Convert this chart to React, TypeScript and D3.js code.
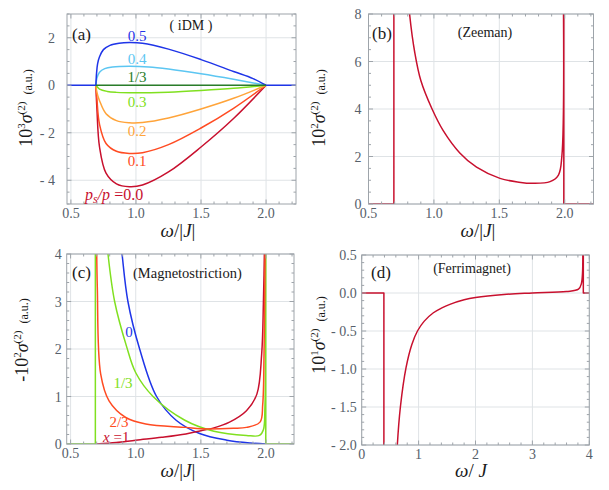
import * as d3 from "d3";
import React, { useEffect, useRef } from "react";

type Pt = [number, number];
type Seg = Pt[];

// ---- (a) iDM : 10^3 sigma(2) for several p_s/p ----
const idmP00: Seg[] = [[[0.692, 0], [0.7, -1.0], [0.72, -2.6], [0.77, -3.7], [0.85, -4.15], [0.95, -4.27], [1.05, -4.2], [1.25, -3.65], [1.5, -2.6], [1.75, -1.4], [2.0, 0]]];
const idmP01: Seg[] = [[[0.692, 0], [0.7, -0.6], [0.72, -1.65], [0.77, -2.45], [0.85, -2.78], [0.95, -2.87], [1.05, -2.84], [1.25, -2.5], [1.5, -1.8], [1.75, -0.97], [2.0, 0]]];
const idmP02: Seg[] = [[[0.692, 0], [0.7, -0.3], [0.72, -0.65], [0.77, -1.2], [0.85, -1.49], [0.95, -1.58], [1.05, -1.57], [1.25, -1.38], [1.5, -1.0], [1.75, -0.55], [2.0, 0]]];
const idmP03: Seg[] = [[[0.692, 0], [0.72, -0.16], [0.78, -0.26], [0.85, -0.3], [1.0, -0.32], [1.25, -0.29], [1.5, -0.22], [1.75, -0.13], [2.0, 0]]];
const idmP04: Seg[] = [[[0.692, 0], [0.7, 0.3], [0.72, 0.55], [0.76, 0.7], [0.82, 0.77], [0.95, 0.8], [1.1, 0.77], [1.25, 0.68], [1.5, 0.48], [1.75, 0.25], [2.0, 0]]];
const idmP05: Seg[] = [
  [[0.47, 0], [0.692, 0]],
  [[0.692, 0], [0.697, 0.5], [0.705, 0.9], [0.72, 1.2], [0.75, 1.5], [0.8, 1.68], [0.87, 1.77], [0.95, 1.8], [1.05, 1.77], [1.25, 1.52], [1.5, 1.08], [1.75, 0.58], [1.9, 0.28], [2.0, 0]],
  [[2.0, 0], [2.23, 0]],
];
const idmP13: Seg[] = [[[0.692, 0], [2.0, 0]]];

// ---- (b) Zeeman : 10^2 sigma(2) ----
const zeeman: Seg[] = [
  [[0.5, 0], [0.694, 0]],
  [[0.694, 0], [0.694, 8.6]],
  [[0.8, 9.0], [0.814, 8.0], [0.853, 6.4], [0.9, 5.2], [0.986, 4.0], [1.07, 3.1], [1.198, 2.15], [1.326, 1.55], [1.505, 1.08], [1.65, 0.92], [1.76, 0.87], [1.888, 0.94], [1.952, 1.22], [1.978, 2.0], [1.99, 8.6]],
  [[1.993, 8.6], [1.993, 0]],
  [[1.993, 0], [2.22, 0]],
];

// ---- (c) Magnetostriction : -10^2 sigma(2) for several x ----
const magX0: Seg[] = [[[0.88, 4.4], [0.895, 4.0], [0.94, 3.0], [1.03, 2.0], [1.16, 1.0], [1.31, 0.5], [1.49, 0.22], [1.7, 0.08], [1.88, 0.02], [2.0, 0]]];
const magX1: Seg[] = [[[0.7, 0], [0.85, 0.03], [1.0, 0.08], [1.2, 0.14], [1.385, 0.21], [1.5, 0.28], [1.6, 0.34], [1.72, 0.46], [1.85, 0.7], [1.93, 1.05], [1.967, 1.9], [1.98, 2.95], [1.99, 4.4]]];
const magX13: Seg[] = [
  [[0.47, 0], [0.69, 0]],
  [[0.69, 0], [0.69, 4.4]],
  [[0.775, 4.4], [0.787, 4.0], [0.838, 3.0], [0.93, 2.05], [1.0, 1.5], [1.133, 1.0], [1.377, 0.5], [1.6, 0.27], [1.85, 0.18], [1.95, 0.18], [1.98, 0.3], [1.992, 0.8], [1.998, 4.4]],
  [[1.998, 4.4], [1.998, 0]],
  [[1.998, 0], [2.22, 0]],
];
const magX23: Seg[] = [[[0.699, 4.4], [0.705, 3.3], [0.731, 1.47], [0.795, 0.91], [0.923, 0.56], [1.077, 0.42], [1.385, 0.35], [1.5, 0.32], [1.75, 0.33], [1.85, 0.35], [1.954, 0.46], [1.975, 0.84], [1.985, 1.9], [1.994, 4.4]]];

// ---- (d) Ferrimagnet : 10^1 sigma(2) ----
const ferri: Seg[] = [
  [[0, 0], [0.39, 0]],
  [[0.39, 0], [0.39, -2.2]],
  [[0.615, -2.2], [0.626, -2.0], [0.68, -1.5], [0.78, -0.98], [0.88, -0.68], [0.98, -0.5], [1.1, -0.37], [1.26, -0.26], [1.4, -0.2], [1.55, -0.15], [1.8, -0.09], [2.0, -0.06], [2.5, -0.02], [3.0, 0.0], [3.6, 0.02], [3.81, 0.05], [3.86, 0.12], [3.885, 0.6]],
  [[3.895, 0.6], [3.895, 0]],
  [[3.895, 0], [4.0, 0]],
];

// tick values / labels
const xTicksJ = [0.5, 1.0, 1.5, 2.0];
const xTickLabelsJ = ["0.5", "1.0", "1.5", "2.0"];
const xTicksD = [0, 1, 2, 3, 4];
const xTickLabelsD = ["0", "1", "2", "3", "4"];
const yTicksA = [2, 0, -2, -4];
const yTickLabelsA = ["2", "0", "- 2", "- 4"];
const yTicksB = [0, 2, 4, 6, 8];
const yTickLabelsB = ["0", "2", "4", "6", "8"];
const yTicksC = [0, 1, 2, 3, 4];
const yTickLabelsC = ["0", "1", "2", "3", "4"];
const yTicksD = [0.5, 0, -0.5, -1.0, -1.5, -2.0];
const yTickLabelsD = ["0.5", "0.0", "- 0.5", "- 1.0", "- 1.5", "- 2.0"];

const COL = {
  blue: "#1f35e8",
  sky: "#5cc6f2",
  dkgreen: "#2a7d2a",
  lime: "#80e020",
  orange: "#ffa43a",
  redorange: "#ff4b22",
  crimson: "#c8102e",
};

const FONT = "Liberation Serif, serif";
const TICK_COLOR = "#56606a";
const FRAME_COLOR = "#9ea4aa";
const GRID_COLOR = "#dfe3e6";

interface Series {
  segs: Seg[];
  color: string;
}

interface Panel {
  id: string;
  left: number;
  top: number;
  right: number;
  bottom: number;
  xDomain: [number, number];
  yDomain: [number, number];
  xTicks: number[];
  xTickLabels: string[];
  xMinor: number;
  yTicks: number[];
  yTickLabels: string[];
  yMinor: number;
  yGap: number;
  series: Series[];
}

const panels: Panel[] = [
  {
    id: "a", left: 67, top: 14, right: 296, bottom: 204,
    xDomain: [0.47, 2.23], yDomain: [-5, 3],
    xTicks: xTicksJ, xTickLabels: xTickLabelsJ, xMinor: 0.1,
    yTicks: yTicksA, yTickLabels: yTickLabelsA, yMinor: 0.5, yGap: 12,
    series: [
      { segs: idmP00, color: COL.crimson },
      { segs: idmP01, color: COL.redorange },
      { segs: idmP02, color: COL.orange },
      { segs: idmP03, color: COL.lime },
      { segs: idmP04, color: COL.sky },
      { segs: idmP05, color: COL.blue },
      { segs: idmP13, color: COL.dkgreen },
    ],
  },
  {
    id: "b", left: 368.5, top: 14, right: 593.5, bottom: 204,
    xDomain: [0.5, 2.22], yDomain: [0, 8],
    xTicks: xTicksJ, xTickLabels: xTickLabelsJ, xMinor: 0.1,
    yTicks: yTicksB, yTickLabels: yTickLabelsB, yMinor: 0.5, yGap: 7,
    series: [{ segs: zeeman, color: COL.crimson }],
  },
  {
    id: "c", left: 66.7, top: 254, right: 294, bottom: 444,
    xDomain: [0.47, 2.215], yDomain: [0, 4],
    xTicks: xTicksJ, xTickLabels: xTickLabelsJ, xMinor: 0.1,
    yTicks: yTicksC, yTickLabels: yTickLabelsC, yMinor: 0.2, yGap: 5,
    series: [
      { segs: magX0, color: COL.blue },
      { segs: magX1, color: COL.crimson },
      { segs: magX13, color: COL.lime },
      { segs: magX23, color: COL.redorange },
    ],
  },
  {
    id: "d", left: 361.7, top: 255, right: 589.3, bottom: 445,
    xDomain: [0, 4], yDomain: [-2, 0.5],
    xTicks: xTicksD, xTickLabels: xTickLabelsD, xMinor: 0.2,
    yTicks: yTicksD, yTickLabels: yTickLabelsD, yMinor: 0.1, yGap: 5,
    series: [{ segs: ferri, color: COL.crimson }],
  },
];

function minorValues(domain: [number, number], step: number) {
  const out: number[] = [];
  const start = Math.ceil(domain[0] / step - 1e-6);
  const end = Math.floor(domain[1] / step + 1e-6);
  for (let i = start; i <= end; i++) out.push(+(i * step).toFixed(6));
  return out;
}

type Sel = d3.Selection<SVGSVGElement, unknown, null, undefined>;

function drawPanel(svg: Sel, p: Panel) {
  const x = d3.scaleLinear().domain(p.xDomain).range([p.left, p.right]);
  const y = d3.scaleLinear().domain(p.yDomain).range([p.bottom, p.top]);
  const g = svg.append("g");

  g.append("clipPath")
    .attr("id", `clip-${p.id}`)
    .append("rect")
    .attr("x", p.left)
    .attr("y", p.top)
    .attr("width", p.right - p.left)
    .attr("height", p.bottom - p.top);

  // grid lines
  g.selectAll(".gx")
    .data(p.xTicks)
    .enter()
    .append("line")
    .attr("x1", (d) => x(d))
    .attr("x2", (d) => x(d))
    .attr("y1", p.top)
    .attr("y2", p.bottom)
    .attr("stroke", GRID_COLOR)
    .attr("stroke-width", 1);
  g.selectAll(".gy")
    .data(p.yTicks)
    .enter()
    .append("line")
    .attr("x1", p.left)
    .attr("x2", p.right)
    .attr("y1", (d) => y(d))
    .attr("y2", (d) => y(d))
    .attr("stroke", GRID_COLOR)
    .attr("stroke-width", 1);

  // curves: each segment smoothed on its own, joined with straight pieces
  const line = d3
    .line<Pt>()
    .x((d) => x(d[0]))
    .y((d) => y(d[1]))
    .curve(d3.curveCatmullRom.alpha(0.5));
  const curves = g.append("g").attr("clip-path", `url(#clip-${p.id})`);
  p.series.forEach((s) => {
    const dStr = s.segs.map((seg, i) => (i === 0 ? line(seg)! : "L" + line(seg)!.slice(1))).join("");
    curves
      .append("path")
      .attr("d", dStr)
      .attr("fill", "none")
      .attr("stroke", s.color)
      .attr("stroke-width", 1.5)
      .attr("stroke-linejoin", "round");
  });

  // frame
  g.append("rect")
    .attr("x", p.left)
    .attr("y", p.top)
    .attr("width", p.right - p.left)
    .attr("height", p.bottom - p.top)
    .attr("fill", "none")
    .attr("stroke", FRAME_COLOR)
    .attr("stroke-width", 1);

  // ticks on all four sides
  const ticks = g.append("g").attr("stroke", FRAME_COLOR).attr("stroke-width", 1);
  const xMin = minorValues(p.xDomain, p.xMinor);
  const yMin = minorValues(p.yDomain, p.yMinor);
  const isMajor = (v: number, arr: number[]) => arr.some((t) => Math.abs(t - v) < 1e-6);
  xMin.forEach((v) => {
    const len = isMajor(v, p.xTicks) ? 4.5 : 2.5;
    ticks.append("line").attr("x1", x(v)).attr("x2", x(v)).attr("y1", p.bottom).attr("y2", p.bottom - len);
    ticks.append("line").attr("x1", x(v)).attr("x2", x(v)).attr("y1", p.top).attr("y2", p.top + len);
  });
  yMin.forEach((v) => {
    const len = isMajor(v, p.yTicks) ? 4.5 : 2.5;
    ticks.append("line").attr("x1", p.left).attr("x2", p.left + len).attr("y1", y(v)).attr("y2", y(v));
    ticks.append("line").attr("x1", p.right).attr("x2", p.right - len).attr("y1", y(v)).attr("y2", y(v));
  });

  // tick labels
  g.selectAll(".xl")
    .data(p.xTicks)
    .enter()
    .append("text")
    .attr("x", (d) => x(d))
    .attr("y", p.bottom + 14)
    .attr("text-anchor", "middle")
    .attr("font-family", FONT)
    .attr("font-size", 14)
    .attr("fill", TICK_COLOR)
    .text((_, i) => p.xTickLabels[i]);
  g.selectAll(".yl")
    .data(p.yTicks)
    .enter()
    .append("text")
    .attr("x", p.left - p.yGap)
    .attr("y", (d) => y(d) + 5)
    .attr("text-anchor", "end")
    .attr("font-family", FONT)
    .attr("font-size", 14)
    .attr("fill", TICK_COLOR)
    .text((_, i) => p.yTickLabels[i]);
}

function yTitle(svg: Sel, cx: number, cy: number, sign: string, exp: string) {
  const t = svg
    .append("text")
    .attr("transform", `translate(${cx},${cy}) rotate(-90)`)
    .attr("text-anchor", "middle")
    .attr("font-family", FONT)
    .attr("font-size", 18)
    .attr("fill", "#1a1a1a");
  t.append("tspan").text(sign + "10");
  t.append("tspan").attr("font-size", 11).attr("dy", -7).text(exp);
  t.append("tspan").attr("dy", 7).attr("font-style", "italic").text("σ");
  t.append("tspan").attr("font-size", 11).attr("dy", -7).text("(2)");
  t.append("tspan").attr("font-size", 12).attr("dy", 7).attr("dx", 7).text("(a.u.)");
}

function xTitle(svg: Sel, cx: number, by: number, bars: boolean) {
  const t = svg
    .append("text")
    .attr("x", cx)
    .attr("y", by)
    .attr("text-anchor", "middle")
    .attr("font-family", FONT)
    .attr("font-size", 19)
    .attr("fill", "#1a1a1a");
  t.append("tspan").attr("font-style", "italic").text("ω");
  t.append("tspan").text(bars ? "/|" : "/ ");
  t.append("tspan").attr("font-style", "italic").text("J");
  if (bars) t.append("tspan").text("|");
}

function label(svg: Sel, x: number, yb: number, txt: string, color: string, size = 15, anchor = "middle") {
  svg
    .append("text")
    .attr("x", x)
    .attr("y", yb)
    .attr("text-anchor", anchor)
    .attr("font-family", FONT)
    .attr("font-size", size)
    .attr("fill", color)
    .text(txt);
}

const App: React.FC = () => {
  const svgRef = useRef<SVGSVGElement | null>(null);

  useEffect(() => {
    const svg = d3.select(svgRef.current!) as Sel;
    svg.selectAll("*").remove();

    panels.forEach((p) => drawPanel(svg, p));

    // axis titles
    yTitle(svg, 32, 108, "", "3");
    yTitle(svg, 325, 108, "", "2");
    yTitle(svg, 28, 340, "-", "2");
    yTitle(svg, 325, 335, "", "1");
    xTitle(svg, 178, 237, true);
    xTitle(svg, 478, 237, true);
    xTitle(svg, 178, 477, true);
    xTitle(svg, 471, 477, false);

    // panel tags and titles
    label(svg, 72, 39.5, "(a)", "#1a1a1a", 17, "start");
    label(svg, 191, 29.5, "( iDM )", "#1a1a1a", 14);
    label(svg, 372, 39, "(b)", "#1a1a1a", 17, "start");
    label(svg, 485, 37, "(Zeeman)", "#1a1a1a", 14);
    label(svg, 72, 278, "(c)", "#1a1a1a", 17, "start");
    label(svg, 133, 278, "(Magnetostriction)", "#1a1a1a", 14.5, "start");
    label(svg, 371, 278, "(d)", "#1a1a1a", 17, "start");
    label(svg, 472, 273, "(Ferrimagnet)", "#1a1a1a", 14);

    // curve labels (a)
    label(svg, 137, 40.5, "0.5", COL.blue);
    label(svg, 137, 64, "0.4", COL.sky);
    label(svg, 137, 82, "1/3", COL.dkgreen);
    label(svg, 137, 107, "0.3", COL.lime);
    label(svg, 137, 136, "0.2", COL.orange);
    label(svg, 137, 166, "0.1", COL.redorange);
    const ps = svg
      .append("text")
      .attr("x", 85)
      .attr("y", 200)
      .attr("font-family", FONT)
      .attr("font-size", 16)
      .attr("fill", COL.crimson);
    ps.append("tspan").attr("font-style", "italic").text("p");
    ps.append("tspan").attr("font-style", "italic").attr("font-size", 12).attr("dy", 3).text("s");
    ps.append("tspan").attr("font-style", "italic").attr("dy", -3).text("/p");
    ps.append("tspan").text(" =0.0");

    // curve labels (c)
    label(svg, 129, 337, "0", COL.blue);
    label(svg, 123, 388, "1/3", COL.lime);
    label(svg, 119, 427, "2/3", COL.redorange);
    const xl = svg
      .append("text")
      .attr("x", 103)
      .attr("y", 441.5)
      .attr("font-family", FONT)
      .attr("font-size", 15)
      .attr("fill", COL.crimson);
    xl.append("tspan").attr("font-style", "italic").text("x");
    xl.append("tspan").text(" =1");
  }, []);

  return (
    <svg
      ref={svgRef}
      width={609}
      height={490}
      style={{ position: "absolute", left: 0, top: 0, background: "#fff" }}
    />
  );
};

export default App;
